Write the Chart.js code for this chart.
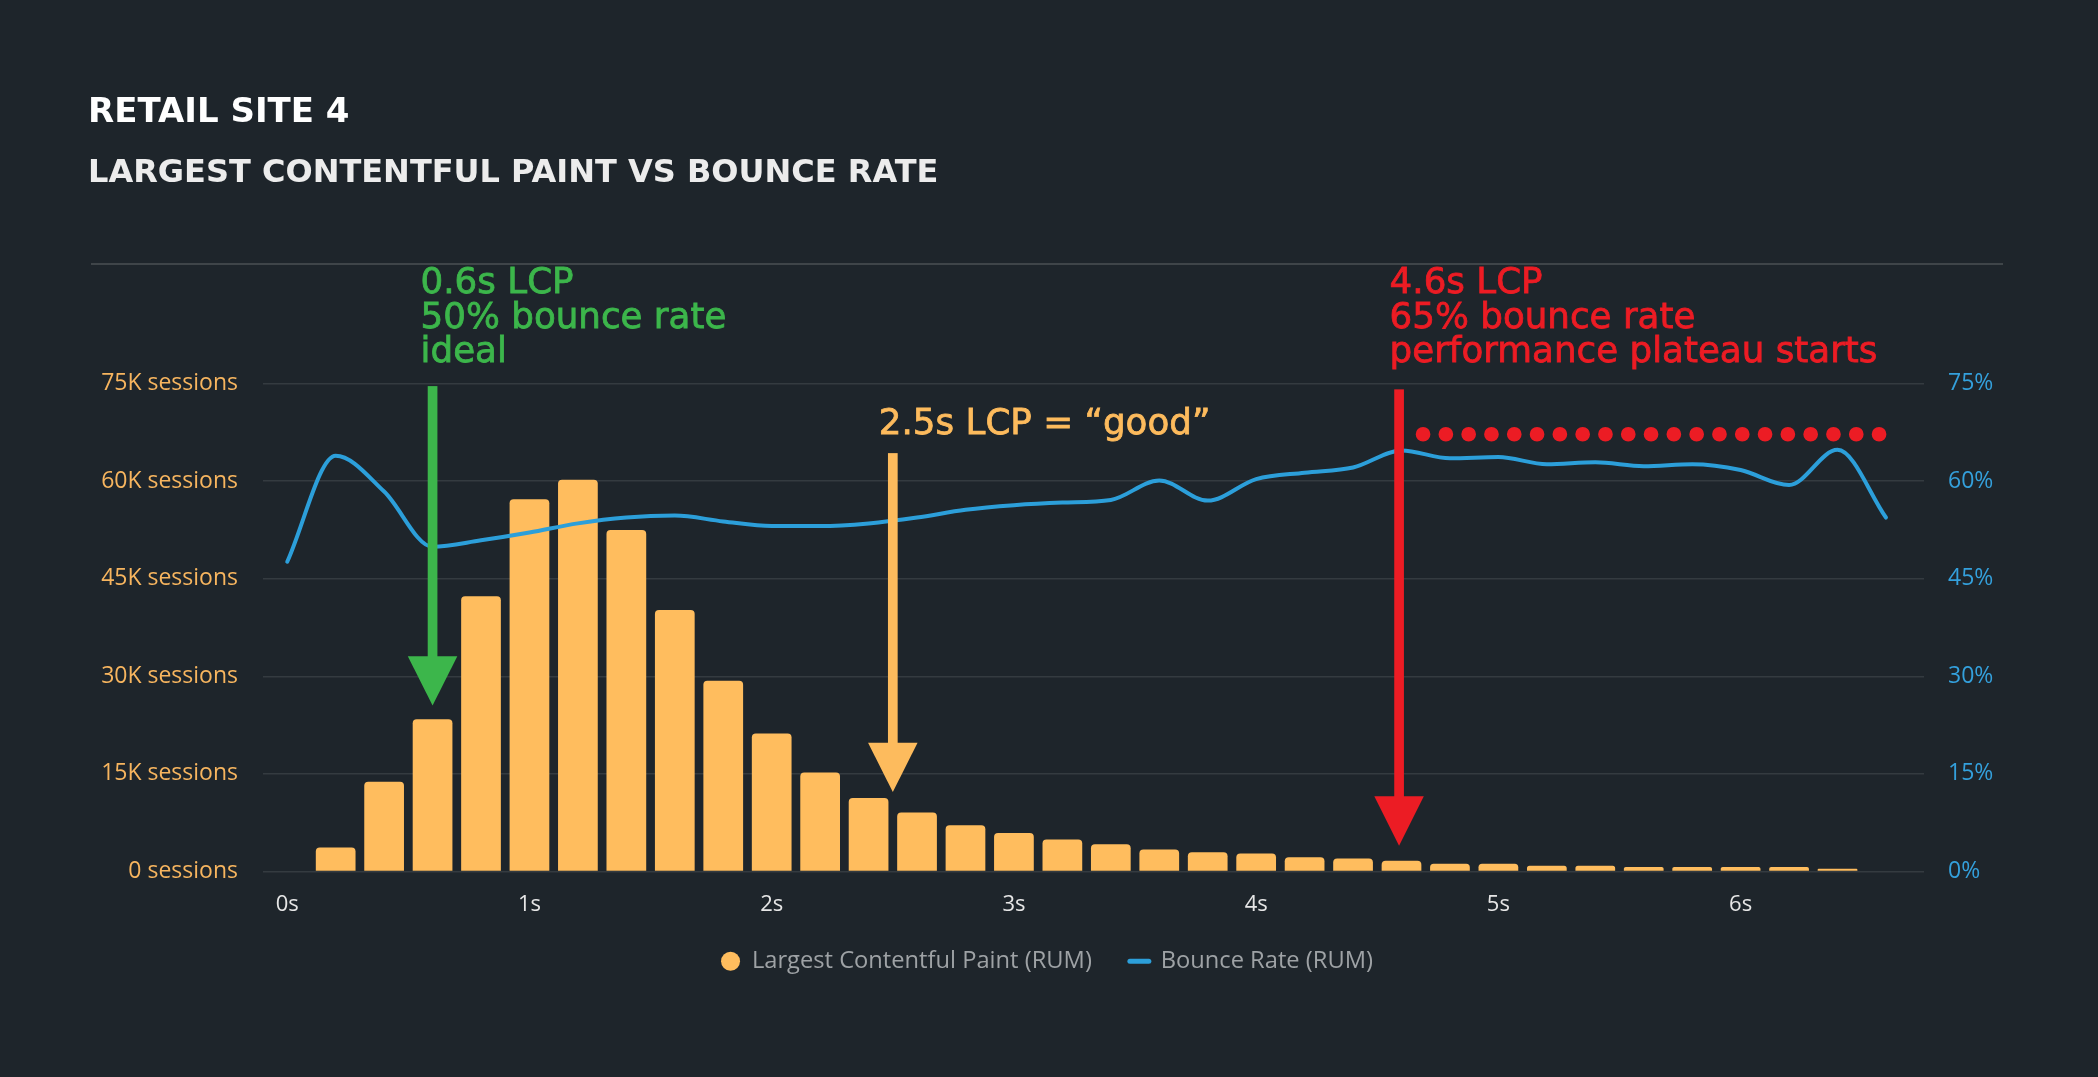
<!DOCTYPE html>
<html>
<head>
<meta charset="utf-8">
<script src="https://cdn.jsdelivr.net/npm/chart.js@4.4.1/dist/chart.umd.min.js"></script>
<style>
  html, body { margin: 0; padding: 0; background: #1e252b; }
  #wrap { width: 2098px; height: 1077px; position: relative; }
  canvas { display: block; }
</style>
</head>
<body>
<div id="wrap"><canvas id="c" width="2098" height="1077"></canvas></div>
<script>
// ---------------- DATA ----------------
const lcpSeconds = [0, 0.2, 0.4, 0.6, 0.8, 1.0, 1.2, 1.4, 1.6, 1.8, 2.0, 2.2, 2.4, 2.6, 2.8, 3.0, 3.2,
  3.4, 3.6, 3.8, 4.0, 4.2, 4.4, 4.6, 4.8, 5.0, 5.2, 5.4, 5.6, 5.8, 6.0, 6.2, 6.4, 6.6];
const lcpSessions = [0, 3670, 13800, 23400, 42300, 57200, 60200, 52500, 40200, 29300, 21200, 15200,
  11300, 9060, 7100, 5900, 4900, 4200, 3400, 2950, 2750, 2200, 1980, 1670, 1200, 1200, 900, 900,
  700, 700, 700, 700, 430, 0];
const bounceRatePct = [47.6, 63.9, 58.4, 49.9, 50.9, 52.1, 53.5, 54.4, 54.7, 53.8, 53.1, 53.1, 53.5,
  54.4, 55.6, 56.3, 56.7, 57.1, 60.1, 57.0, 60.3, 61.3, 62.1, 64.7, 63.5, 63.7, 62.6, 62.9, 62.3,
  62.6, 61.7, 59.4, 64.8, 54.4];
const plateauSeconds = [4.689, 6.573];
const plateauPct = [67.2, 67.2];

const xTickSeconds = [0, 1, 2, 3, 4, 5, 6];
const sessionTickValues = [0, 15000, 30000, 45000, 60000, 75000];
const bounceTickValues = [0, 15, 30, 45, 60, 75];

const titleText = 'RETAIL SITE 4';
const subtitleText = 'LARGEST CONTENTFUL PAINT VS BOUNCE RATE';
const barLabel = 'Largest Contentful Paint (RUM)';
const lineLabel = 'Bounce Rate (RUM)';

const greenNote = ['0.6s LCP', '50% bounce rate', 'ideal'];
const orangeNote = ['2.5s LCP = \u201cgood\u201d'];
const redNote = ['4.6s LCP', '65% bounce rate', 'performance plateau starts'];

// annotation arrows: x in seconds, top and tip in sessions (left axis)
const arrowSeconds = [0.6, 2.5, 4.59];
const arrowTopSessions = [74600, 64300, 74100];
const arrowTipSessions = [25500, 12200, 3970];

// ---------------- STYLE ----------------
const BG = '#1e252b';
const GRID = '#343b40';
const BAR = '#ffbd5e';
const BLUE = '#2c9fda';
const GREEN = '#3cb64b';
const RED = '#ec1c24';
const ORANGE = '#fdbb5d';

const target = { top: 383.5, bottom: 871.5, legendMid: 961.2 };
const state = { xAxisHeight: 60 };

Chart.defaults.font.family = "'Open Sans', sans-serif";

function drawArrow(ctx, x, yTop, yTip, color) {
  const shaftW = 9.7, headW = 49.5, headH = 49.4;
  ctx.fillStyle = color;
  ctx.fillRect(x - shaftW / 2, yTop, shaftW, (yTip - headH) - yTop + 1);
  ctx.beginPath();
  ctx.moveTo(x - headW / 2, yTip - headH);
  ctx.lineTo(x + headW / 2, yTip - headH);
  ctx.lineTo(x, yTip);
  ctx.closePath();
  ctx.fill();
}

function drawNote(ctx, lines, x, firstBaseline, color) {
  ctx.font = "35.7px 'DejaVu Sans'";
  ctx.fillStyle = color;
  ctx.strokeStyle = color;
  ctx.lineWidth = 0.8;
  ctx.textAlign = 'left';
  ctx.textBaseline = 'alphabetic';
  lines.forEach((t, i) => {
    ctx.fillText(t, x, firstBaseline + i * 34.8);
    ctx.strokeText(t, x, firstBaseline + i * 34.8);
  });
}

const notesPlugin = {
  id: 'notes',
  beforeDraw(chart) {
    const ctx = chart.ctx;
    ctx.save();
    ctx.fillStyle = BG;
    ctx.fillRect(0, 0, chart.width, chart.height);
    // titles
    ctx.textAlign = 'left';
    ctx.textBaseline = 'alphabetic';
    ctx.fillStyle = '#ffffff';
    ctx.font = "bold 34px 'DejaVu Sans'";
    ctx.fillText(titleText, 88, 122);
    ctx.fillStyle = '#ececec';
    ctx.font = "bold 32px 'DejaVu Sans'";
    ctx.fillText(subtitleText, 88, 182.3);
    // separator
    ctx.strokeStyle = '#4b5154';
    ctx.lineWidth = 1.5;
    ctx.beginPath();
    ctx.moveTo(91, 264);
    ctx.lineTo(2003, 264);
    ctx.stroke();
    ctx.restore();
  },
  afterDatasetsDraw(chart) {
    const { ctx, chartArea, scales } = chart;
    const x = scales.x, y = scales.y;
    const colors = [GREEN, ORANGE, RED];
    ctx.save();
    arrowSeconds.forEach((s, i) => {
      drawArrow(ctx, x.getPixelForValue(s), y.getPixelForValue(arrowTopSessions[i]),
        y.getPixelForValue(arrowTipSessions[i]), colors[i]);
    });
    const top = chartArea.top;
    drawNote(ctx, greenNote, x.getPixelForValue(arrowSeconds[0]) - 12, top - 90.8, GREEN);
    drawNote(ctx, orangeNote, x.getPixelForValue(arrowSeconds[1]) - 14, top + 50.8, ORANGE);
    drawNote(ctx, redNote, x.getPixelForValue(arrowSeconds[2]) - 9.5, top - 90.8, RED);
    ctx.restore();
  }
};

const chart = new Chart(document.getElementById('c'), {
  data: {
    datasets: [
      {
        type: 'line', label: lineLabel, yAxisID: 'y1', order: 1,
        data: lcpSeconds.map((s, i) => ({ x: s, y: bounceRatePct[i] })),
        borderColor: BLUE, borderWidth: 4, pointRadius: 0, fill: false,
        cubicInterpolationMode: 'monotone', borderCapStyle: 'round', borderJoinStyle: 'round'
      },
      {
        type: 'line', label: 'plateau', yAxisID: 'y1', order: 2,
        data: plateauSeconds.map((s, i) => ({ x: s, y: plateauPct[i] })),
        borderColor: RED, borderWidth: 14.7, borderDash: [0, 22.8], borderCapStyle: 'round',
        pointRadius: 0, fill: false, tension: 0
      },
      {
        type: 'bar', label: barLabel, yAxisID: 'y', order: 3,
        data: lcpSeconds.map((s, i) => ({ x: s, y: lcpSessions[i] })),
        backgroundColor: BAR, borderWidth: 0, borderRadius: 4, borderSkipped: 'bottom',
        barPercentage: 0.82, categoryPercentage: 1
      }
    ]
  },
  options: {
    responsive: false,
    animation: false,
    devicePixelRatio: 1,
    layout: { padding: { left: 91, right: 95, top: 368, bottom: 70 } },
    plugins: {
      tooltip: { enabled: false },
      title: { display: false },
      legend: {
        position: 'bottom',
        labels: {
          usePointStyle: true, boxWidth: 19, boxHeight: 13.4, padding: 38,
          color: '#9ea2a5', font: { size: 23.7 },
          generateLabels: (ch) => {
            const ds = ch.data.datasets;
            return [
              { text: ds[2].label, fillStyle: ds[2].backgroundColor, strokeStyle: ds[2].backgroundColor,
                lineWidth: 0, pointStyle: 'circle', fontColor: '#9ea2a5', datasetIndex: 2, hidden: false },
              { text: ds[0].label, fillStyle: ds[0].borderColor, strokeStyle: ds[0].borderColor,
                lineWidth: 5, lineCap: 'round', pointStyle: 'line', fontColor: '#9ea2a5', datasetIndex: 0, hidden: false }
            ];
          }
        }
      }
    },
    scales: {
      x: {
        type: 'linear', min: -0.1, max: 6.757, offset: false,
        grid: { display: false, drawTicks: false, offset: false },
        border: { display: false },
        afterBuildTicks: (s) => { s.ticks = xTickSeconds.map(v => ({ value: v })); },
        afterFit: (s) => { s.height = state.xAxisHeight; },
        ticks: { color: '#e6e6e6', font: { size: 22 }, padding: 20, maxRotation: 0, autoSkip: false,
          callback: (v) => v + 's' }
      },
      y: {
        position: 'left', min: 0, max: 75000,
        afterBuildTicks: (s) => { s.ticks = sessionTickValues.map(v => ({ value: v })); },
        afterFit: (s) => { s.width = 172; },
        grid: { color: GRID, lineWidth: 1.5, drawTicks: false },
        border: { display: false },
        ticks: { color: '#f7b55f', font: { size: 23 }, padding: 25,
          callback: (v) => (v === 0 ? '0' : (v / 1000) + 'K') + ' sessions' }
      },
      y1: {
        position: 'right', min: 0, max: 75,
        afterBuildTicks: (s) => { s.ticks = bounceTickValues.map(v => ({ value: v })); },
        afterFit: (s) => { s.width = 79; },
        grid: { drawOnChartArea: false, drawTicks: false },
        border: { display: false },
        ticks: { color: '#34a0dc', font: { size: 23 }, padding: 24, callback: (v) => v + '%' }
      }
    }
  },
  plugins: [notesPlugin]
});

// fine-tune the layout boxes so the plot area and legend sit where the reference has them
for (let i = 0; i < 5; i++) {
  const lg = chart.legend;
  let mid = lg.top + lg.height / 2;
  if (lg.legendHitBoxes && lg.legendHitBoxes.length) {
    const hb = lg.legendHitBoxes[0];
    mid = hb.top + hb.height / 2;
  }
  chart.options.layout.padding.bottom += mid - target.legendMid;
  chart.options.layout.padding.top += target.top - chart.chartArea.top;
  state.xAxisHeight += chart.chartArea.bottom - target.bottom;
  chart.update();
}
</script>
</body>
</html>
